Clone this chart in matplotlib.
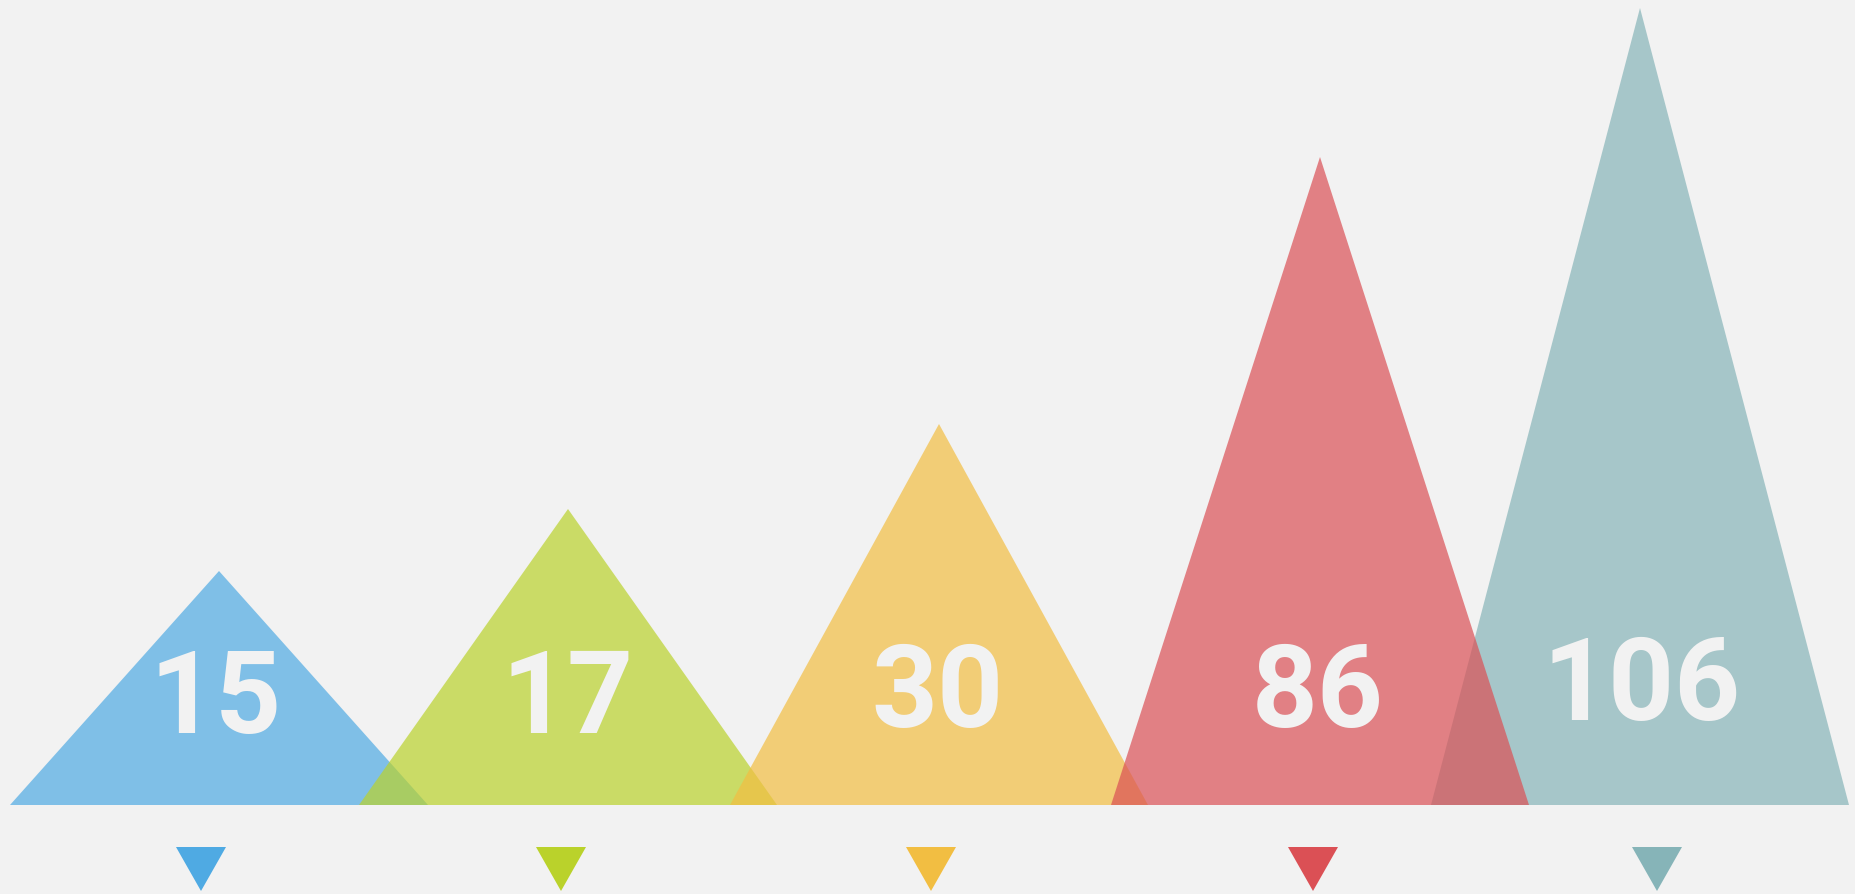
import matplotlib
matplotlib.use("Agg")
import matplotlib.pyplot as plt

# values shown on each peak
values = [15, 17, 30, 86, 106]
# peak heights (above the base line)
peaks = [234, 296, 381, 648, 797]
colors = ['#4faae3', '#bad22b', '#f2be42', '#db5055', '#86b4b8']

# layout
centers = [219, 568, 939, 1320, 1640]
marker_x = [201, 561, 931, 1313, 1657]
label_x = [216, 568, 938, 1318, 1642]
label_y = [72, 72, 78, 78, 85]
zorders = [2, 3, 4, 5, 1]
half_w = 209
bg = '#f2f2f2'

fig = plt.figure(figsize=(18.56, 8.94), dpi=100, facecolor=bg)
ax = fig.add_axes([0, 0, 1, 1])
ax.set_facecolor(bg)
ax.set_xlim(0, 1856)
ax.set_ylim(-89, 805)
ax.axis('off')

for i, v in enumerate(values):
    c = centers[i]
    ax.fill([c - half_w, c, c + half_w], [0, peaks[i], 0],
            color=colors[i], alpha=0.7, lw=0, zorder=zorders[i])
    ax.text(label_x[i], label_y[i], str(v), color=bg, ha='center', va='baseline',
            fontsize=83, fontweight='bold', family=['Roboto', 'DejaVu Sans'],
            zorder=10)
    # small pointer under each peak
    m = marker_x[i]
    ax.fill([m - 25, m + 25, m], [-42, -42, -86], color=colors[i], lw=0, zorder=6)

fig.savefig('out.png', dpi=100, facecolor=bg)
